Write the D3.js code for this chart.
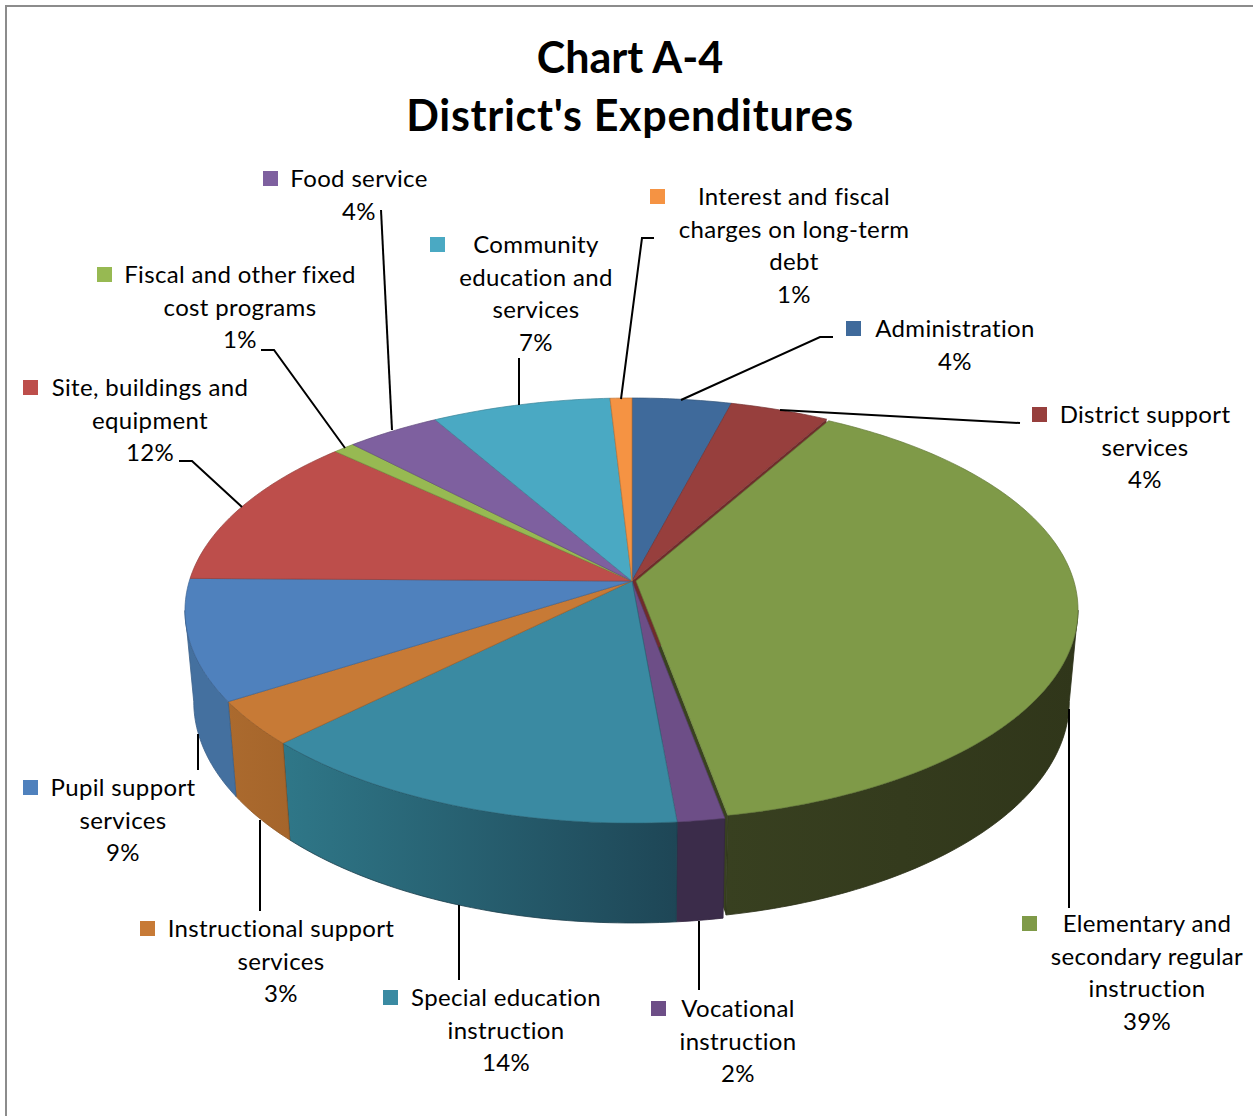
<!DOCTYPE html>
<html>
<head>
<meta charset="utf-8">
<script src="https://cdn.jsdelivr.net/npm/d3@7"></script>
<style>
  html, body { margin: 0; background: #fff; }
  svg { display: block; font-family: Lato, "Open Sans", sans-serif; }
  .label { font-size: 24px; fill: #000; text-anchor: middle; dominant-baseline: central; letter-spacing: 0.35px; }
  .title { font-size: 43px; font-weight: 700; fill: #000; text-anchor: middle; }
  .leader { fill: none; stroke: #000; stroke-width: 2px; }
</style>
</head>
<body>
<div id="chart"></div>
<script>
// slices clockwise from 12 o'clock
const names = ['Administration', 'District support services', 'Elementary and secondary regular instruction',
  'Vocational instruction', 'Special education instruction', 'Instructional support services',
  'Pupil support services', 'Site, buildings and equipment', 'Fiscal and other fixed cost programs',
  'Food service', 'Community education and services', 'Interest and fiscal charges on long-term debt'];
const values = [4.1, 4.1, 38.9, 1.5, 14.0, 3.4, 9.2, 11.7, 0.9, 3.9, 7.4, 0.9];

// how each name wraps in its label
const labelLines = [
  ['Administration'],
  ['District support', 'services'],
  ['Elementary and', 'secondary regular', 'instruction'],
  ['Vocational', 'instruction'],
  ['Special education', 'instruction'],
  ['Instructional support', 'services'],
  ['Pupil support', 'services'],
  ['Site, buildings and', 'equipment'],
  ['Fiscal and other fixed', 'cost programs'],
  ['Food service'],
  ['Community', 'education and', 'services'],
  ['Interest and fiscal', 'charges on long-term', 'debt']
];

const topColors = ['#3f6a9b', '#973f3d', '#7f9a48', '#6d4e87', '#3a8aa2', '#c77a36',
  '#4f81bd', '#bd4e4b', '#97b952', '#7e609f', '#4aa9c3', '#f59343'];
const wallColors = [null, null, ['#384020', '#30361a'], ['#3b2c4a', '#3b2c4a'], ['#2f7788', '#1e4656'],
  ['#ab6a2e', '#a5652b'], ['#44709f', '#44709f'], null, null, null, null, null];

// label placement: text centre x, first line centre y, key left x
const labelPos = [[955, 328, 846], [1145, 414, 1032], [1147, 923, 1022], [738, 1008, 651], [506, 997, 383],
  [281, 928, 140], [123, 787, 23], [150, 387, 23], [240, 274, 97], [359, 178, 263], [536, 244, 430], [794, 196, 650]];
const leaders = [
  [[833, 337], [820, 337], [681, 400]],
  [[1020, 423], [780, 410]],
  [[1069, 908], [1069, 709]],
  [[699, 990], [699, 921]],
  [[459, 980], [459, 905]],
  [[260, 911], [260, 820]],
  [[198, 770], [198, 734]],
  [[179, 461], [192, 461], [242, 507]],
  [[261, 350], [274, 350], [345, 448]],
  [[381, 210], [392, 430]],
  [[519, 358], [519, 405]],
  [[654, 238], [642, 238], [621, 399]]
];

const width = 1253, height = 1116;
const lineHeight = 32.5;

// the pie is a tilted disc seen in perspective, so the apex sits above the middle of the ellipse
const cx = 632;
const persp = 0.1388;
const topRim = { cy: 581, a: 442.7, b: 208.4 };
const bottomRim = { cy: 671, a: 434, b: 217 };
const pulled = 2;               // the big slice is pulled out a little
const pullShift = 4, pullScale = 0.989;
const frontStart = Math.acos(-persp);      // where the wall comes into view on the right
const frontEnd = 2 * Math.PI - frontStart; // and leaves on the left

function project(rim, angle, i) {
  const k = i === pulled ? pullScale : 1;
  const dx = i === pulled ? pullShift : 0;
  const u = Math.sin(angle) * k, v = Math.cos(angle) * k;
  const w = 1 + persp * v;
  return [cx + dx + rim.a * u / w, rim.cy - rim.b * v / w];
}

function arcPoints(rim, a0, a1, i) {
  const n = Math.max(2, Math.ceil((a1 - a0) * 60));
  return d3.range(n + 1).map((j) => project(rim, a0 + (a1 - a0) * j / n, i));
}

const svg = d3.select('#chart').append('svg').attr('width', width).attr('height', height);
const line = d3.line();
const defs = svg.append('defs');

// frame
svg.append('path').attr('d', line([[6, height], [6, 6], [width, 6]]))
  .attr('fill', 'none').attr('stroke', '#8c8c8c').attr('stroke-width', 2);

const pie = d3.pie().sort(null).value((d) => d)(values);

// cut faces that show through the gap round the pulled slice
const slices = svg.append('g');
function cutFace(angle, i, color) {
  const a = project(topRim, angle, i), b = project(bottomRim, angle, i);
  slices.append('path')
    .attr('d', line([[cx + (i === pulled ? pullShift : 0), topRim.cy], a, b, [cx + (i === pulled ? pullShift : 0), bottomRim.cy]]) + 'Z')
    .attr('fill', color);
}
cutFace(pie[pulled].endAngle, pulled, '#39421f');
cutFace(pie[1].endAngle, 1, '#6f2c2b');

// outer walls, only the part turned towards the viewer
pie.forEach((d, i) => {
  const a0 = Math.max(d.startAngle, frontStart), a1 = Math.min(d.endAngle, frontEnd);
  if (a1 <= a0 || !wallColors[i]) return;
  const upper = arcPoints(topRim, a0, a1, i);
  const lower = arcPoints(bottomRim, a0, a1, i).reverse();
  const xs = d3.extent(upper.concat(lower), (p) => p[0]);
  const id = 'wall' + i;
  const grad = defs.append('linearGradient').attr('id', id).attr('gradientUnits', 'userSpaceOnUse')
    .attr('x1', xs[0]).attr('x2', xs[1]).attr('y1', 0).attr('y2', 0);
  grad.append('stop').attr('offset', 0).attr('stop-color', wallColors[i][0]);
  grad.append('stop').attr('offset', 1).attr('stop-color', wallColors[i][1]);
  slices.append('path')
    .attr('d', line(upper.concat(lower)) + 'Z')
    .attr('fill', `url(#${id})`)
    .attr('stroke', d3.color(wallColors[i][1]).darker(0.4))
    .attr('stroke-width', 0.8);
});

// top faces
pie.forEach((d, i) => {
  const apex = [cx + (i === pulled ? pullShift : 0), topRim.cy];
  slices.append('path')
    .attr('d', line([apex].concat(arcPoints(topRim, d.startAngle, d.endAngle, i))) + 'Z')
    .attr('fill', topColors[i])
    .attr('stroke', d3.color(topColors[i]).darker(0.7))
    .attr('stroke-width', 0.7)
    .attr('stroke-linejoin', 'round');
});

// leader lines
svg.append('g').selectAll('path').data(leaders).join('path')
  .attr('class', 'leader')
  .attr('d', (d) => line(d));

// labels with their colour keys
const percent = d3.format('.0f');
const labels = svg.append('g').selectAll('g').data(names).join('g');
labels.append('rect')
  .attr('x', (d, i) => labelPos[i][2])
  .attr('y', (d, i) => labelPos[i][1] - 7)
  .attr('width', 15).attr('height', 15)
  .attr('fill', (d, i) => topColors[i]);
labels.selectAll('text')
  .data((d, i) => labelLines[i].concat(percent(values[i]) + '%').map((t, j) => ({ t, j, i })))
  .join('text')
  .attr('class', 'label')
  .attr('x', (d) => labelPos[d.i][0])
  .attr('y', (d) => labelPos[d.i][1] - 0.5 + d.j * lineHeight)
  .text((d) => d.t);

// title
svg.append('text').attr('class', 'title').attr('x', 630).attr('y', 72.5).text('Chart A-4');
svg.append('text').attr('class', 'title').attr('x', 630).attr('y', 130.5)
  .style('letter-spacing', '0.7px').text("District's Expenditures");
</script>
</body>
</html>
